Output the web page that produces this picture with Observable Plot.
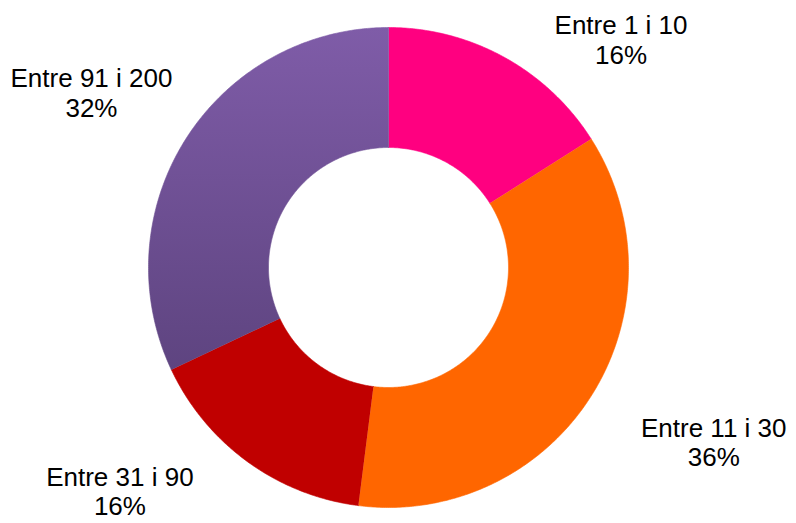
<!DOCTYPE html>
<html>
<head>
<meta charset="utf-8">
<script src="https://cdn.jsdelivr.net/npm/d3@7"></script>
<script src="https://cdn.jsdelivr.net/npm/@observablehq/plot@0.6"></script>
<style>
  html, body { margin: 0; padding: 0; background: #fff; }
  #chart { width: 796px; height: 523px; }
</style>
</head>
<body>
<div id="chart"></div>
<script>
// ---- data ----
const categories = ["Entre 1 i 10", "Entre 11 i 30", "Entre 31 i 90", "Entre 91 i 200"];
const shares = [16, 36, 16, 32];
const pctLabels = ["16%", "36%", "16%", "32%"];
const colors = ["#FF0080", "#FF6600", "#C00000", "url(#purpleGrad)"];

// ---- layout ----
const W = 796, H = 523;
const cx = 388, cy = 267;       // donut centre in pixels
const R = 240, r0 = 120;        // outer / inner radius
const fontSize = 26, lineH = 1.12;
const labelDist = 272, hPush = 35;
const padX = 10, padTop = 10, padBottom = 3;
const fontFamily = '"Liberation Sans", Arial, sans-serif';

const total = d3.sum(shares);
let acc = 0;
const slices = categories.map((c, i) => {
  const a0 = acc / total * 2 * Math.PI;
  acc += shares[i];
  const a1 = acc / total * 2 * Math.PI;
  return {cat: c, a0, a1, pct: pctLabels[i]};
});

// polygon vertices for each ring segment (angle clockwise from top; y grows downward)
const pts = [];
for (const s of slices) {
  const n = Math.max(4, Math.ceil((s.a1 - s.a0) / (Math.PI / 360)));
  for (let k = 0; k <= n; k++) {
    const a = s.a0 + (s.a1 - s.a0) * k / n;
    pts.push({cat: s.cat, x: R * Math.sin(a), y: -R * Math.cos(a)});
  }
  for (let k = n; k >= 0; k--) {
    const a = s.a0 + (s.a1 - s.a0) * k / n;
    pts.push({cat: s.cat, x: r0 * Math.sin(a), y: -r0 * Math.cos(a)});
  }
}

// label placement: nearest corner of label box near the mid-angle, pushed sideways, clamped inside frame
const ctx = document.createElement("canvas").getContext("2d");
ctx.font = `${fontSize}px ${fontFamily}`;
const boxH = 2 * fontSize * lineH;
const labels = slices.map(s => {
  const mid = (s.a0 + s.a1) / 2;
  const w = Math.max(ctx.measureText(s.cat).width, ctx.measureText(s.pct).width);
  const rightSide = Math.sin(mid) >= 0;
  const px = labelDist * Math.sin(mid) + (rightSide ? hPush : -hPush);
  const py = -labelDist * Math.cos(mid);
  let left = rightSide ? px : px - w;
  let top = Math.cos(mid) > 0 ? py - boxH : py;
  left = Math.min(Math.max(left, padX - cx), W - cx - padX - w);
  top = Math.min(Math.max(top, padTop - cy), H - cy - padBottom - boxH);
  return {text: s.cat + "\n" + s.pct, x: left + w / 2, y: top + boxH / 2};
});

const svg = Plot.plot({
  width: W,
  height: H,
  margin: 0,
  x: {domain: [-cx, W - cx], range: [0, W], axis: null},
  y: {domain: [-cy, H - cy], range: [0, H], axis: null},
  color: {type: "ordinal", domain: categories, range: colors},
  style: {background: "#fff", fontFamily},
  marks: [
    Plot.line(pts, {x: "x", y: "y", z: "cat", fill: "cat", stroke: "cat", strokeWidth: 0.6, curve: "linear"}),
    Plot.text(labels, {
      x: "x", y: "y", text: "text",
      fontSize: fontSize, lineHeight: lineH,
      textAnchor: "middle", lineAnchor: "middle",
      fill: "#000"
    })
  ]
});

svg.insertAdjacentHTML("afterbegin",
  `<defs><linearGradient id="purpleGrad" x1="0" y1="0" x2="0" y2="1">
     <stop offset="0" stop-color="#7F5CA8"/>
     <stop offset="1" stop-color="#5E4480"/>
   </linearGradient></defs>`);

document.getElementById("chart").appendChild(svg);
</script>
</body>
</html>
